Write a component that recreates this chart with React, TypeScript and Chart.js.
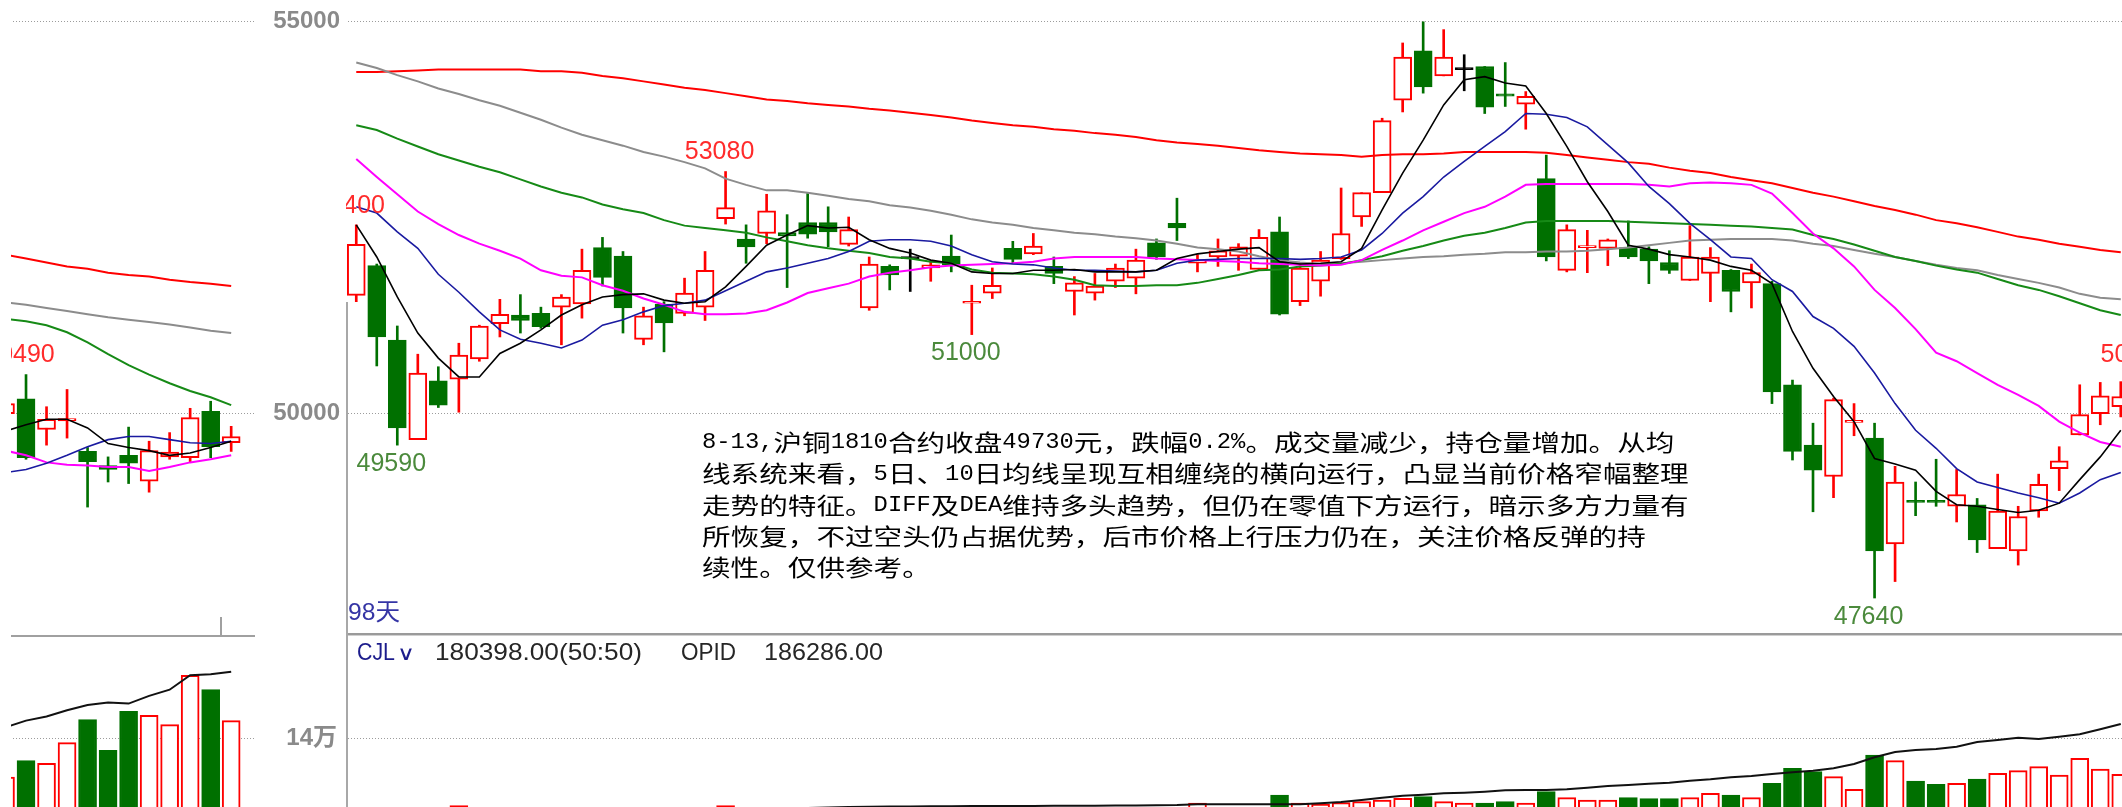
import React, { useEffect, useRef } from "react";
import { Chart, registerables } from "chart.js";

Chart.register(...registerables);

// ================= MAIN WINDOW: daily candles (index 0..86) =================
const opens = [
  51500, 51880, 50930, 49660, 50410, 50430, 50690, 51140, 51250, 51270,
  51350, 51390, 52110, 52000, 50940, 51390, 51270, 51350, 52480, 52220,
  52290, 52300, 52430, 52430, 52150, 51340, 51870, 51970, 51850, 52000,
  51400, 51530, 52100, 52030, 51870, 51550, 51530, 51680, 51720, 52170,
  52420, 51910, 51990, 52000, 51830, 52310, 51420, 51680, 51970, 52500,
  52810, 53990, 54620, 54300, 54380, 54420, 54070, 53940, 52990, 51820,
  52110, 52100, 52110, 52090, 51920, 51690, 51780, 51820, 51660, 51650,
  50360, 49590, 49190, 49880, 49680, 48330, 48880, 48880, 48810, 48830,
  48270, 48240, 48750, 49290, 49720, 49990, 50080,
];
const highs = [
  52400, 51900, 51110, 50750, 50590, 50890, 51120, 51450, 51510, 51350,
  51510, 52090, 52240, 52060, 51350, 51420, 51720, 52060, 53080, 52400,
  52790, 52530, 52800, 52630, 52500, 51990, 51890, 52090, 51930, 52270,
  51630, 51850, 52190, 52290, 51990, 51740, 51780, 51900, 52090, 52220,
  52740, 52020, 52220, 52160, 52340, 52500, 51910, 52060, 52870, 52810,
  53760, 54720, 54990, 54890, 54570, 54420, 54470, 54100, 53290, 52400,
  52330, 52220, 52450, 52120, 52070, 52390, 52110, 51830, 51900, 51680,
  50420, 49870, 50190, 50120, 49870, 49320, 49120, 49410, 49280, 48910,
  49220, 48810, 49220, 49570, 50360, 50390, 50400,
];
const lows = [
  51420, 50600, 49590, 49660, 50070, 50010, 50660, 50970, 51020, 51080,
  50870, 51210, 51620, 51020, 50870, 50780, 51240, 51180, 52410, 51910,
  52160, 51600, 52230, 52120, 52130, 51310, 51570, 51550, 51680, 51800,
  51000, 51460, 51910, 52020, 51650, 51250, 51440, 51600, 51520, 51960,
  52200, 51800, 51870, 51820, 51820, 51250, 51370, 51490, 51960, 52380,
  52810, 53840, 54080, 54300, 54110, 53820, 53910, 53620, 51940, 51800,
  51790, 51880, 51970, 51650, 51780, 51690, 51420, 51290, 51340, 50120,
  49400, 48740, 48920, 49710, 47640, 47850, 48690, 48810, 48610, 48220,
  48270, 48060, 48670, 49010, 49720, 49850, 49950,
];
const closes = [
  52150, 50970, 49810, 50510, 50100, 50740, 51110, 51260, 51180, 51100,
  51480, 51820, 51730, 51340, 51240, 51150, 51530, 51820, 52620, 52120,
  52580, 52260, 52280, 52310, 52340, 51900, 51760, 51970, 51890, 51890,
  51420, 51630, 51960, 52130, 51780, 51660, 51620, 51850, 51950, 51990,
  52360, 51950, 52070, 52120, 52240, 51260, 51850, 51950, 52290, 52810,
  53730, 54540, 54160, 54540, 54380, 53900, 54040, 54040, 51990, 52340,
  52130, 52210, 51990, 51940, 51820, 51990, 51990, 51550, 51790, 50270,
  49510, 49270, 50170, 49900, 48240, 49120, 48860, 48860, 48960, 48380,
  48750, 48680, 49090, 49390, 49980, 50220, 50210,
];
const ma5 = [
  52400, 51990, 51480, 51020, 50700, 50460, 50460, 50760, 50890, 51060,
  51250, 51380, 51480, 51510, 51520, 51440, 51400, 51420, 51610, 51870,
  52140, 52270, 52390, 52360, 52370, 52210, 52100, 52040, 51950, 51910,
  51800, 51780, 51780, 51820, 51820, 51830, 51800, 51800, 51800, 51820,
  51970, 52030, 52060, 52090, 52110, 51930, 51900, 51910, 51930, 52100,
  52590, 53060, 53480, 53930, 54250, 54290, 54210, 54170, 53820, 53400,
  52950, 52570, 52140, 52090, 52020, 51990, 51950, 51870, 51820, 51650,
  51040, 50570, 50210, 49890, 49420, 49350, 49270, 49000, 48830, 48810,
  48770, 48730, 48760, 48850, 49150, 49440, 49780,
];
const ma10 = [
  52630, 52550, 52310, 52100, 51770, 51540, 51290, 51060, 50940, 50890,
  50830, 50930, 51120, 51190, 51290, 51370, 51400, 51440, 51560, 51680,
  51800, 51850, 51910, 51970, 52060, 52190, 52210, 52210, 52190, 52130,
  52020, 51930, 51900, 51890, 51850, 51820, 51820, 51810, 51800, 51820,
  51910, 51950, 51960, 51970, 51970, 51970, 51960, 51970, 51990, 52080,
  52290, 52550, 52760, 53010, 53210, 53400, 53590, 53820, 53810, 53770,
  53650, 53420, 53190, 52890, 52670, 52420, 52210, 51990, 51970, 51700,
  51550, 51230, 51080, 50850, 50510, 50120, 49780, 49550, 49290, 49120,
  49050, 48980, 48920, 48850, 48980, 49150, 49240,
];
const ma20 = [
  53240, 53010, 52790, 52570, 52410, 52270, 52160, 52070, 51970, 51820,
  51750, 51730, 51630, 51560, 51460, 51380, 51290, 51260, 51260, 51270,
  51310, 51410, 51530, 51590, 51650, 51740, 51790, 51820, 51860, 51880,
  51890, 51900, 51910, 51930, 51970, 51990, 51990, 51990, 51990, 51970,
  51960, 51950, 51940, 51930, 51910, 51900, 51890, 51880, 51890, 51950,
  52080, 52200, 52330, 52440, 52550, 52630, 52760, 52910, 52920, 52920,
  52920, 52920, 52920, 52910, 52890, 52930, 52940, 52930, 52910, 52800,
  52550, 52290, 52100, 51870, 51570, 51340, 51070, 50770, 50660, 50510,
  50360, 50230, 50090, 49890, 49750, 49630, 49570,
];
const ma40 = [
  53670, 53610, 53500, 53400, 53300, 53220, 53140, 53070, 52980, 52890,
  52810, 52750, 52660, 52600, 52550, 52460, 52390, 52360, 52330, 52300,
  52240, 52190, 52140, 52100, 52070, 52040, 51990, 51970, 51930, 51910,
  51830, 51790, 51780, 51770, 51740, 51700, 51630, 51620, 51620, 51630,
  51630, 51660, 51710, 51760, 51820, 51830, 51870, 51880, 51900, 51950,
  52000, 52070, 52130, 52200, 52260, 52300, 52360, 52430, 52450, 52450,
  52450, 52450, 52440, 52430, 52420, 52410, 52400, 52390, 52380, 52360,
  52340, 52270, 52220, 52150, 52070, 51990, 51940, 51880, 51830, 51790,
  51710, 51630, 51570, 51490, 51400, 51310, 51250,
];
const ma60 = [
  54470, 54400, 54310, 54230, 54140, 54070, 53990, 53920, 53830, 53740,
  53640, 53550, 53480, 53410, 53330, 53270, 53200, 53120, 52990, 52910,
  52840, 52840, 52810, 52770, 52730, 52700, 52650, 52620, 52580, 52530,
  52470, 52430, 52400, 52360, 52330, 52300, 52280, 52250, 52230, 52200,
  52160, 52110, 52090, 52060, 52000, 51950, 51920, 51900, 51910, 51930,
  51950, 51970, 51990, 52000, 52020, 52030, 52050, 52050, 52060, 52060,
  52070, 52090, 52110, 52140, 52170, 52200, 52210, 52220, 52220, 52220,
  52200, 52160, 52130, 52080, 52030, 51990, 51940, 51890, 51850, 51820,
  51760, 51710, 51660, 51600, 51520, 51470, 51450,
];
const ma120 = [
  54350, 54350, 54360, 54370, 54380, 54380, 54380, 54380, 54380, 54360,
  54360, 54340, 54300, 54270, 54230, 54190, 54150, 54120, 54080, 54040,
  54000, 53980, 53950, 53930, 53910, 53880, 53860, 53830, 53800, 53770,
  53730, 53700, 53670, 53650, 53620, 53600, 53570, 53550, 53520, 53480,
  53450, 53430, 53410, 53380, 53350, 53330, 53310, 53300, 53290, 53270,
  53290, 53300, 53300, 53310, 53330, 53330, 53330, 53330, 53320, 53290,
  53260, 53230, 53200, 53180, 53130, 53090, 53060, 53010, 52970, 52930,
  52870, 52810, 52760, 52700, 52640, 52590, 52530, 52460, 52420, 52370,
  52310, 52250, 52210, 52160, 52120, 52080, 52050,
];
const volumes = [
  52000, 60000, 64000, 58000, 55000, 72300, 62000, 56000, 50000, 48000,
  54000, 63000, 60000, 64000, 58000, 52000, 50000, 60000, 72300, 62000,
  58000, 61000, 57000, 55000, 52000, 63000, 58000, 54000, 50000, 52000,
  66000, 60000, 57000, 55000, 53000, 56000, 54000, 58000, 60000, 62000,
  64000, 75000, 66000, 64000, 68000, 83000, 75000, 74000, 75300, 76300,
  78000, 79700, 81300, 76300, 75000, 75000, 76300, 75000, 86300, 80300,
  78000, 78000, 80300, 79300, 79300, 80300, 84700, 83000, 80300, 94700,
  109700, 106300, 101300, 88700, 123000, 117300, 97000, 93700, 94700, 99000,
  104700, 107300, 111300, 103000, 119700, 109000, 103700,
];
const openInterest = [
  64000, 64300, 64500, 64700, 65100, 65300, 65500, 65900, 66100, 66300,
  66600, 66800, 67100, 67300, 67500, 67900, 68100, 68400, 68800, 69000,
  69300, 69700, 70100, 70500, 71000, 71300, 71500, 71600, 71800, 71700,
  71900, 72000, 72100, 72000, 72200, 72300, 72300, 72500, 72600, 72800,
  73000, 73700, 73700, 73700, 73700, 73700, 73700, 74700, 76000, 78000,
  80300, 82300, 83300, 84700, 85300, 86300, 87700, 88000, 88000, 88700,
  90300, 92000, 93000, 94300, 95300, 97300, 98700, 100700, 102000, 104000,
  105700, 107300, 109700, 114000, 120700, 126000, 128000, 129000, 131300, 136000,
  138000, 140300, 139000, 141300, 143700, 148700, 154000,
];
const mainDays = opens.map((_, i) => i);
const mainHighLabels = [
  { at: 0, value: 52400 },
  { at: 18, value: 53080 },
  { at: 87, value: 50490 },
];
const mainLowLabels = [
  { at: 2, value: 49590 },
  { at: 30, value: 51000 },
  { at: 74, value: 47640 },
];

// ================= LEFT FRAGMENT WINDOW (index 0..11) =================
const fragOpens = [49990, 50180, 49790, 49900, 49510, 49330, 49460, 49130, 49440, 49430, 50020, 49620];
const fragHighs = [50180, 50490, 50080, 50300, 49560, 49440, 49820, 49640, 49750, 50060, 50150, 49830];
const fragLows = [49900, 49410, 49590, 49680, 48800, 49120, 49100, 48990, 49410, 49380, 49430, 49510];
const fragCloses = [50120, 49430, 49920, 49930, 49380, 49280, 49360, 49520, 49500, 49940, 49570, 49700];
const fragMa5 = [49770, 49850, 49920, 49920, 49810, 49610, 49560, 49520, 49460, 49490, 49560, 49640];
const fragMa10 = [49240, 49280, 49360, 49460, 49570, 49660, 49700, 49700, 49660, 49620, 49610, 49640];
const fragMa20 = [49520, 49460, 49370, 49340, 49330, 49310, 49310, 49260, 49310, 49370, 49410, 49460];
const fragMa40 = [51200, 51170, 51120, 51030, 50900, 50750, 50610, 50490, 50380, 50280, 50200, 50100];
const fragMa60 = [51410, 51380, 51340, 51300, 51260, 51220, 51190, 51160, 51130, 51090, 51050, 51020];
const fragMa120 = [52020, 51970, 51920, 51870, 51840, 51790, 51760, 51740, 51700, 51670, 51650, 51620];
const fragVolumes = [101000, 117300, 114700, 135300, 158400, 127600, 166700, 162600, 153300, 202700, 188300, 157400];
const fragOpenInterest = [150700, 157400, 161500, 167700, 172900, 175400, 174400, 182100, 188300, 202700, 203700, 206300];
const fragDays = fragOpens.map((_, i) => i);
const fragHighLabels = [{ at: 1, value: 50490 }];

// ================= AXES / TEXT =================
const priceTicks = [50000, 55000];
const volumeTicks = [140000];
const volumeTickText = ["14万"];
const PRICE_MIN = 47181;
const PRICE_MAX = 55268;
const VOL_MIN = 71000;
const VOL_MAX = 242000;
const MAIN_X = { min: -0.5, max: 86.06 };
const FRAG_X = { min: 0.268, max: 12.161 };

const volumeLegend = { name: "CJL", value: "180398.00(50:50)", oiName: "OPID", oiValue: "186286.00" };
const periodText = "98天";
const noteLines = [
  "8-13,沪铜1810合约收盘49730元，跌幅0.2%。成交量减少，持仓量增加。从均",
  "线系统来看，5日、10日均线呈现互相缠绕的横向运行，凸显当前价格窄幅整理",
  "走势的特征。DIFF及DEA维持多头趋势，但仍在零值下方运行，暗示多方力量有",
  "所恢复，不过空头仍占据优势，后市价格上行压力仍在，关注价格反弹的持",
  "续性。仅供参考。",
];

const RED = "#ff0000";
const GREEN = "#007000";
const BLACK = "#000000";
const HIGH_LABEL = "#ff2b2b";
const LOW_LABEL = "#4b8a3c";
const TICK_COLOR = "#8a8a8a";
const GRID_COLOR = "#9c9c9c";
const MA_STYLE = [
  { color: "#000000", width: 1.6 },
  { color: "#1a1aa0", width: 1.6 },
  { color: "#ff00ff", width: 2 },
  { color: "#168a16", width: 2 },
  { color: "#8c8c8c", width: 2 },
  { color: "#ff0000", width: 2 },
];

const candleColor = (o: number, c: number) => (c > o ? RED : c < o ? GREEN : BLACK);

function candleSets(xs: number[], o: number[], h: number[], l: number[], c: number[]) {
  return [
    {
      type: "bar",
      data: xs.map((x, i) => ({ x, y: [l[i], h[i]] })),
      backgroundColor: xs.map((_, i) => candleColor(o[i], c[i])),
      borderWidth: 0,
      barThickness: 2,
      grouped: false,
      order: 2,
    },
    {
      type: "bar",
      data: xs.map((x, i) => ({ x, y: [Math.min(o[i], c[i]), Math.max(o[i], c[i])] })),
      backgroundColor: xs.map((_, i) => (c[i] > o[i] ? "#ffffff" : candleColor(o[i], c[i]))),
      borderColor: xs.map((_, i) => candleColor(o[i], c[i])),
      borderWidth: 2,
      borderSkipped: false,
      barThickness: 18,
      minBarLength: 2,
      grouped: false,
      order: 1,
    },
  ];
}

function lineSet(xs: number[], ys: number[], color: string, width: number) {
  return {
    type: "line",
    data: xs.map((x, i) => ({ x, y: ys[i] })),
    borderColor: color,
    borderWidth: width,
    pointRadius: 0,
    tension: 0,
    fill: false,
    order: 0,
  };
}

function yAxis(min: number, max: number, ticks: number[], labels: string[] | null, width: number, padding: number) {
  return {
    type: "linear",
    position: "left",
    min,
    max,
    afterBuildTicks: (s: any) => {
      s.ticks = ticks.map((v) => ({ value: v }));
    },
    afterFit: (s: any) => {
      s.width = width;
      s.paddingTop = 0;
      s.paddingBottom = 0;
    },
    grid: { display: false, drawTicks: false, tickLength: 0 },
    border: { display: false },
    ticks: {
      display: !!labels,
      padding,
      color: TICK_COLOR,
      font: { family: '"Liberation Sans", "Noto Sans CJK SC"', size: 24, weight: "bold" },
      callback: (v: number) => {
        const k = ticks.indexOf(v);
        return labels && k >= 0 ? labels[k] : "";
      },
    },
  };
}

// dotted horizontal grid lines at the tick values, drawn through the y scale
const dottedGrid = {
  id: "dottedGrid",
  beforeDatasetsDraw(chart: any) {
    const { ctx, chartArea, scales } = chart;
    const ys = scales.y;
    ctx.save();
    ctx.strokeStyle = GRID_COLOR;
    ctx.lineWidth = 1;
    ctx.setLineDash([1, 2]);
    ys.ticks.forEach((t: any) => {
      const y = Math.round(ys.getPixelForValue(t.value)) + 0.5;
      ctx.beginPath();
      ctx.moveTo(chartArea.left + 2, y);
      ctx.lineTo(chartArea.right, y);
      ctx.stroke();
    });
    ctx.restore();
  },
};

function baseOptions(xr: { min: number; max: number }, y: any) {
  return {
    animation: false,
    responsive: false,
    maintainAspectRatio: false,
    events: [],
    layout: { padding: 0, autoPadding: false },
    plugins: { legend: { display: false }, tooltip: { enabled: false } },
    scales: {
      x: { type: "linear", min: xr.min, max: xr.max, display: false, offset: false },
      y,
    },
  };
}

function fitText(ctx: CanvasRenderingContext2D, text: string, x: number, y: number, width: number, font: string, color: string) {
  ctx.save();
  ctx.font = font;
  ctx.fillStyle = color;
  ctx.textBaseline = "middle";
  ctx.textAlign = "left";
  const w = ctx.measureText(text).width || 1;
  ctx.translate(x, y);
  ctx.scale(width / w, 1);
  ctx.fillText(text, 0, 0);
  ctx.restore();
}

function drawExtremes(chart: any, highsL: { at: number; value: number }[], lowsL: { at: number; value: number }[]) {
  const { ctx, chartArea, scales } = chart;
  ctx.save();
  ctx.beginPath();
  ctx.rect(chartArea.left, chartArea.top, chartArea.right - chartArea.left, chartArea.bottom - chartArea.top);
  ctx.clip();
  ctx.font = '25px "Liberation Sans"';
  ctx.textAlign = "center";
  ctx.textBaseline = "middle";
  highsL.forEach((m) => {
    ctx.fillStyle = HIGH_LABEL;
    ctx.fillText(String(m.value), scales.x.getPixelForValue(m.at) - 6, scales.y.getPixelForValue(m.value) - 19);
  });
  lowsL.forEach((m) => {
    ctx.fillStyle = LOW_LABEL;
    ctx.fillText(String(m.value), scales.x.getPixelForValue(m.at) - 6, scales.y.getPixelForValue(m.value) + 19);
  });
  ctx.restore();
}

function drawNote(ctx: CanvasRenderingContext2D, x0: number, y0: number) {
  const em = 28.6;
  const lh = 31.25;
  ctx.save();
  ctx.fillStyle = "#000";
  ctx.textBaseline = "middle";
  ctx.textAlign = "left";
  noteLines.forEach((line, li) => {
    let x = x0;
    const y = y0 + li * lh;
    for (const ch of line) {
      const half = ch.charCodeAt(0) < 128;
      const cell = half ? em / 2 : em;
      ctx.save();
      ctx.font = half ? '22px "Liberation Mono"' : '23px "Noto Sans CJK SC"';
      const w = ctx.measureText(ch).width || cell;
      ctx.translate(x, y);
      ctx.scale(cell / w, 1);
      ctx.fillText(ch, 0, 0);
      ctx.restore();
      x += cell;
    }
  });
  ctx.restore();
}

function mainPriceConfig() {
  const mas = [ma5, ma10, ma20, ma40, ma60, ma120];
  return {
    type: "bar",
    data: {
      datasets: [
        ...mas.map((m, k) => lineSet(mainDays, m, MA_STYLE[k].color, MA_STYLE[k].width)),
        ...candleSets(mainDays, opens, highs, lows, closes),
      ],
    },
    options: baseOptions(MAIN_X, yAxis(PRICE_MIN, PRICE_MAX, priceTicks, priceTicks.map(String), 91, 6)),
    plugins: [
      dottedGrid,
      {
        id: "mainMarks",
        afterDatasetsDraw(chart: any) {
          drawExtremes(chart, mainHighLabels, mainLowLabels);
          const ctx = chart.ctx;
          drawNote(ctx, 447, 442.5);
          fitText(ctx, periodText, 93, 613.5, 52, '24px "Liberation Sans", "Noto Sans CJK SC"', "#3535a5");
        },
      },
    ],
  };
}

function fragPriceConfig() {
  const mas = [fragMa5, fragMa10, fragMa20, fragMa40, fragMa60, fragMa120];
  return {
    type: "bar",
    data: {
      datasets: [
        ...mas.map((m, k) => lineSet(fragDays, m, MA_STYLE[k].color, MA_STYLE[k].width)),
        ...candleSets(fragDays, fragOpens, fragHighs, fragLows, fragCloses),
      ],
    },
    options: baseOptions(FRAG_X, yAxis(PRICE_MIN, PRICE_MAX, priceTicks, null, 0, 0)),
    plugins: [
      dottedGrid,
      {
        id: "fragMarks",
        afterDatasetsDraw(chart: any) {
          drawExtremes(chart, fragHighLabels, []);
        },
      },
    ],
  };
}

function volumeSets(xs: number[], vols: number[], o: number[], c: number[], oi: number[]) {
  return [
    lineSet(xs, oi, "#111111", 2),
    {
      type: "bar",
      data: xs.map((x, i) => ({ x, y: vols[i] })),
      backgroundColor: xs.map((_, i) => (c[i] >= o[i] ? "#ffffff" : GREEN)),
      borderColor: xs.map((_, i) => (c[i] >= o[i] ? RED : GREEN)),
      borderWidth: 2,
      borderSkipped: "start",
      barThickness: 18,
      grouped: false,
      order: 1,
    },
  ];
}

function mainVolumeConfig() {
  return {
    type: "bar",
    data: { datasets: volumeSets(mainDays, volumes, opens, closes, openInterest) },
    options: baseOptions(MAIN_X, yAxis(VOL_MIN, VOL_MAX, volumeTicks, volumeTickText, 91, 9)),
    plugins: [
      dottedGrid,
      {
        id: "volLegend",
        afterDatasetsDraw(chart: any) {
          const ctx = chart.ctx;
          const f = '24px "Liberation Sans"';
          fitText(ctx, volumeLegend.name, 102, 17, 38, f, "#1c1c8c");
          fitText(ctx, "∨", 142, 19, 18, '20px "DejaVu Sans"', "#1c1c8c");
          fitText(ctx, volumeLegend.value, 180, 17, 207, f, "#262626");
          fitText(ctx, volumeLegend.oiName, 426, 17, 55, f, "#262626");
          fitText(ctx, volumeLegend.oiValue, 509, 17, 119, f, "#262626");
        },
      },
    ],
  };
}

function fragVolumeConfig() {
  return {
    type: "bar",
    data: { datasets: volumeSets(fragDays, fragVolumes, fragOpens, fragCloses, fragOpenInterest) },
    options: baseOptions(FRAG_X, yAxis(VOL_MIN, VOL_MAX, volumeTicks, null, 0, 0)),
    plugins: [dottedGrid],
  };
}

function ChartBox({ left, top, width, height, make }: any) {
  const ref = useRef<HTMLCanvasElement | null>(null);
  useEffect(() => {
    if (!ref.current) return;
    const chart = new Chart(ref.current, make() as any);
    return () => chart.destroy();
  }, []);
  return (
    <div style={{ position: "absolute", left, top, width, height }}>
      <canvas ref={ref} width={width} height={height} style={{ display: "block", width, height }} />
    </div>
  );
}

export default function App() {
  const line = (left: number, top: number, width: number, height: number, bg: string) => (
    <div style={{ position: "absolute", left, top, width, height, background: bg }} />
  );
  return (
    <div style={{ position: "fixed", left: 0, top: 0, width: 2122, height: 807, background: "#fff", overflow: "hidden" }}>
      <ChartBox left={11} top={0} width={244} height={634} make={fragPriceConfig} />
      <ChartBox left={11} top={636} width={244} height={171} make={fragVolumeConfig} />
      <ChartBox left={255} top={0} width={1867} height={634} make={mainPriceConfig} />
      <ChartBox left={255} top={636} width={1867} height={171} make={mainVolumeConfig} />
      {line(11, 635, 244, 2, "#a0a0a0")}
      {line(220, 617, 2, 19, "#a0a0a0")}
      {line(346, 633, 1776, 2, "#9a9a9a")}
      {line(346, 635, 1776, 1, "#d0d0d0")}
      {line(346, 302, 2, 505, "#a8a8a8")}
    </div>
  );
}
